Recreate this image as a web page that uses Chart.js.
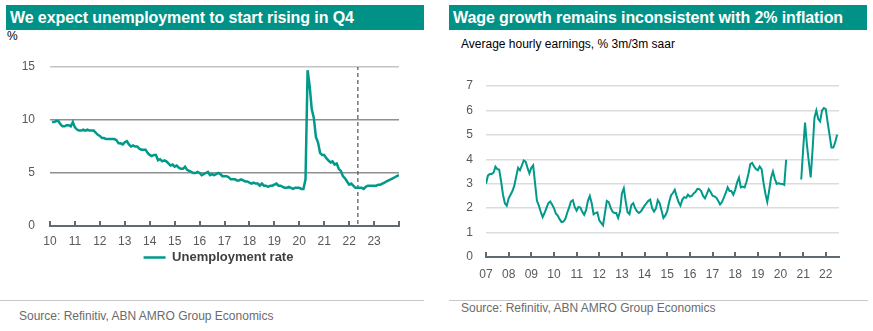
<!DOCTYPE html>
<html>
<head>
	<meta charset="utf-8">
	<title>Unemployment and wage growth</title>
	<script src="https://cdn.jsdelivr.net/npm/chart.js@4.4.0/dist/chart.umd.min.js"></script>
	<style>
		html, body {
			margin: 0;
			padding: 0;
			background: #fff;
			font-family: "Liberation Sans", Arial, sans-serif;
		}
		body {
			position: relative;
			width: 873px;
			height: 331px;
			overflow: hidden;
		}
		.abs {
			position: absolute;
		}
		.title {
			background-color: #009286;
			color: #fff;
			font-weight: bold;
			font-size: 16px;
			letter-spacing: -0.1px;
			height: 25px;
			line-height: 25px;
			padding-left: 4px;
			box-sizing: border-box;
			white-space: nowrap;
		}
		.note {
			font-size: 12px;
			color: #000;
			white-space: nowrap;
		}
		.rule {
			height: 1px;
			background: #c8c8c8;
		}
		.source {
			font-size: 12px;
			color: #6b6b6b;
			white-space: nowrap;
		}
	</style>
</head>
<body>
<div class="abs title" style="left:6px; top:5px; width:418px;">We expect unemployment to start rising in Q4</div>
<div class="abs note" style="left:7px; top:29px;">%</div>
<div class="abs" style="left:0; top:0; width:424px; height:274px;"><canvas id="leftChart"></canvas></div>
<div class="abs rule" style="left:0; top:300px; width:424px;"></div>
<div class="abs source" style="left:19px; top:309px;">Source: Refinitiv, ABN AMRO Group Economics</div>

<div class="abs title" style="left:449px; top:5px; width:418px;">Wage growth remains inconsistent with 2% inflation</div>
<div class="abs note" style="left:461px; top:37px;">Average hourly earnings, % 3m/3m saar</div>
<div class="abs" style="left:436px; top:0; width:437px; height:282px;"><canvas id="rightChart"></canvas></div>
<div class="abs rule" style="left:449px; top:300px; width:419px;"></div>
<div class="abs source" style="left:461px; top:301px;">Source: Refinitiv, ABN AMRO Group Economics</div>

<script>
	// US unemployment rate, monthly, Jan 2010 - Dec 2023 (forecast after May 2022)
	const unemployment = [
		9.8, 9.8, 9.9, 9.9, 9.6, 9.4, 9.4, 9.5, 9.5, 9.4, 9.8, 9.3,
		9.1, 9.0, 9.0, 9.1, 9.0, 9.1, 9.0, 9.0, 9.0, 8.8, 8.6, 8.5,
		8.3, 8.3, 8.2, 8.2, 8.2, 8.2, 8.2, 8.1, 7.8, 7.8, 7.7, 7.9,
		8.0, 7.7, 7.5, 7.6, 7.5, 7.5, 7.3, 7.2, 7.2, 7.2, 6.9, 6.7,
		6.6, 6.7, 6.7, 6.2, 6.3, 6.1, 6.2, 6.1, 5.9, 5.7, 5.8, 5.6,
		5.7, 5.5, 5.4, 5.4, 5.6, 5.3, 5.2, 5.1, 5.0, 5.0, 5.1, 5.0,
		4.8, 4.9, 5.0, 5.1, 4.8, 4.9, 4.8, 4.9, 5.0, 4.9, 4.7, 4.7,
		4.7, 4.6, 4.4, 4.4, 4.4, 4.3, 4.3, 4.4, 4.3, 4.2, 4.2, 4.1,
		4.0, 4.1, 4.0, 4.0, 3.8, 4.0, 3.8, 3.8, 3.7, 3.8, 3.8, 3.9,
		4.0, 3.8, 3.8, 3.7, 3.6, 3.6, 3.7, 3.6, 3.5, 3.6, 3.6, 3.6,
		3.5, 3.5, 4.4, 14.7, 13.2, 11.0, 10.2, 8.4, 7.9, 6.9, 6.7, 6.7,
		6.4, 6.2, 6.0, 6.1, 5.8, 5.9, 5.4, 5.2, 4.7, 4.5, 4.2, 3.9,
		4.0, 3.8, 3.6, 3.6, 3.6, 3.6, 3.5, 3.7, 3.8, 3.8, 3.8, 3.8,
		3.8, 3.9, 3.9, 4.0, 4.1, 4.2, 4.3, 4.4, 4.5, 4.6, 4.7, 4.8
	];
	const unemploymentStart = 2010;
	const forecastStart = 2022.35;
	const leftYears = ['10', '11', '12', '13', '14', '15', '16', '17', '18', '19', '20', '21', '22', '23'];

	// Average hourly earnings, % 3m/3m saar, monthly from Jan 2007 (gap Apr-Nov 2020)
	const wageGrowth = [
		3.0, 3.33, 3.4, 3.4, 3.45, 3.7, 3.6, 3.57, 3.1, 2.55,
		2.2, 2.1, 2.4, 2.55, 2.7, 2.92, 3.3, 3.65, 3.55, 3.75,
		3.95, 3.9, 3.65, 3.42, 3.65, 3.75, 3.0, 2.3, 2.1, 1.85,
		1.63, 1.8, 2.0, 2.2, 2.27, 2.15, 2.0, 1.78, 1.7, 1.55,
		1.43, 1.45, 1.55, 1.8, 2.02, 2.27, 2.33, 2.05, 1.9, 2.05,
		2.02, 1.85, 1.73, 1.92, 2.3, 2.5, 2.2, 1.75, 1.8, 1.83,
		1.5, 1.4, 1.3, 1.8, 2.3, 2.25, 2.02, 1.86, 1.8, 1.8,
		1.6, 1.87, 2.6, 2.81, 2.28, 1.83, 1.75, 2.13, 2.2, 2.0,
		1.87, 1.8, 1.86, 1.98, 2.1, 2.2, 2.3, 2.35, 2.0, 1.86,
		1.98, 2.33, 2.2, 1.9, 1.6, 1.7, 1.88, 2.24, 2.52, 2.62,
		2.75, 2.48, 2.25, 2.1, 2.35, 2.45, 2.42, 2.55, 2.47, 2.5,
		2.6, 2.67, 2.79, 2.78, 2.7, 2.5, 2.4, 2.58, 2.78, 2.66,
		2.51, 2.48, 2.43, 2.3, 2.15, 2.25, 2.43, 2.62, 2.85, 2.7,
		2.7, 2.55, 2.75, 3.05, 3.25, 2.85, 2.88, 2.85, 3.08, 3.4,
		3.8, 3.85, 3.71, 3.6, 3.55, 3.71, 3.6, 3.05, 2.6, 2.26,
		2.72, 3.25, 3.5, 3.2, 3.0, 3.02, 3.0, 2.99, 2.95, 3.98,
		null, null, null, null, null, null, null,
		3.17, 4.4, 5.5, 4.6, 3.9, 3.26, 4.4, 5.7, 6.0, 5.65,
		5.55, 6.0, 6.1, 6.05, 5.5, 5.0, 4.48, 4.48, 4.7, 5.0
	];
	const wageStart = 2007;
	const rightYears = ['07', '08', '09', '10', '11', '12', '13', '14', '15', '16', '17', '18', '19', '20', '21', '22'];

	const teal = '#00998a';
	const axisGrey = '#5f6b73';
	const labelGrey = '#595959';

	Chart.defaults.font.family = '"Liberation Sans", Arial, sans-serif';
	Chart.defaults.font.size = 12;
	Chart.defaults.color = labelGrey;

	// small tick marks pointing up from the x axis line
	const upTicks = {
		id: 'upTicks',
		afterDraw(chart) {
			const x = chart.scales.x;
			const ctx = chart.ctx;
			ctx.save();
			ctx.strokeStyle = axisGrey;
			ctx.lineWidth = 2;
			x.ticks.forEach(t => {
				const px = Math.round(x.getPixelForValue(t.value));
				ctx.beginPath();
				ctx.moveTo(px, x.top);
				ctx.lineTo(px, x.top - 5);
				ctx.stroke();
			});
			ctx.restore();
		}
	};

	// centre the legend under the plot area rather than the whole canvas
	const legendUnderPlot = {
		id: 'legendUnderPlot',
		afterLayout(chart) {
			const lg = chart.legend;
			if (!lg) return;
			const shift = (chart.chartArea.left + chart.chartArea.right) / 2 - (lg.left + lg.right) / 2 - 6;
			lg.left += shift;
			lg.right += shift;
		}
	};

	function xAxis(min, max, years, first, pad, height) {
		return {
			type: 'linear',
			min: min,
			max: max,
			afterFit: s => { s.height = height; },
			border: {display: true, color: axisGrey, width: 2},
			grid: {display: true, drawOnChartArea: false, drawTicks: false, color: 'rgba(0,0,0,0)'},
			ticks: {
				stepSize: 1,
				includeBounds: false,
				autoSkip: false,
				maxRotation: 0,
				padding: pad,
				color: labelGrey,
				callback: v => years[Math.round(v - first)] || ''
			}
		};
	}

	new Chart(document.getElementById('leftChart'), {
		type: 'line',
		data: {
			datasets: [{
				label: 'Unemployment rate',
				data: unemployment.map((v, i) => ({x: unemploymentStart + (i + 1) / 12, y: v})),
				borderColor: teal,
				backgroundColor: teal,
				borderWidth: 2.5,
				pointRadius: 0,
				tension: 0
			}, {
				label: 'forecast',
				data: [{x: forecastStart, y: 0.2}, {x: forecastStart, y: 15}],
				borderColor: '#555',
				borderWidth: 1.2,
				borderDash: [4, 3],
				pointRadius: 0
			}]
		},
		options: {
			animation: false,
			responsive: true,
			maintainAspectRatio: false,
			layout: {padding: {top: 67, right: 25, left: 0, bottom: 0}},
			plugins: {
				legend: {
					position: 'bottom',
					labels: {
						filter: item => item.datasetIndex === 0,
						usePointStyle: true,
						pointStyle: 'line',
						pointStyleWidth: 22,
						padding: 4,
						color: '#404040',
						font: {size: 13, weight: 'bold'}
					}
				},
				tooltip: {enabled: false}
			},
			scales: {
				x: xAxis(2010, 2024, leftYears, 2010, 8, 21),
				y: {
					min: 0,
					max: 15,
					afterFit: s => { s.width = 50; },
					border: {display: false},
					grid: {
						drawTicks: false,
						lineWidth: 1.5,
						color: c => c.tick.value === 15 ? '#c4c4c4' : (c.tick.value === 0 ? 'rgba(0,0,0,0)' : '#8f8f8f')
					},
					ticks: {stepSize: 5, padding: 15, color: labelGrey}
				}
			}
		},
		plugins: [upTicks, legendUnderPlot]
	});

	new Chart(document.getElementById('rightChart'), {
		type: 'line',
		data: {
			datasets: [{
				label: 'Average hourly earnings',
				data: wageGrowth.map((v, i) => ({x: wageStart + i / 12, y: v})),
				borderColor: teal,
				borderWidth: 2,
				pointRadius: 0,
				spanGaps: false,
				tension: 0
			}]
		},
		options: {
			animation: false,
			responsive: true,
			maintainAspectRatio: false,
			layout: {padding: {top: 86, right: 34, left: 0, bottom: 0}},
			plugins: {
				legend: {display: false},
				tooltip: {enabled: false}
			},
			scales: {
				x: xAxis(2007, wageStart + wageGrowth.length / 12, rightYears, 2007, 10, 25),
				y: {
					min: 0,
					max: 7,
					afterFit: s => { s.width = 50; },
					border: {display: false},
					grid: {
						drawTicks: false,
						lineWidth: 1.5,
						color: c => c.tick.value === 0 ? 'rgba(0,0,0,0)' : '#dcdcdc'
					},
					ticks: {stepSize: 1, padding: 13, color: labelGrey}
				}
			}
		},
		plugins: [upTicks]
	});
</script>
</body>
</html>
